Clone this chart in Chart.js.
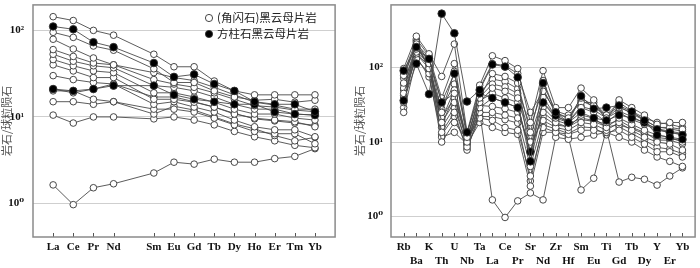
<!DOCTYPE html>
<html>
<head>
<meta charset="utf-8">
<script src="https://cdn.jsdelivr.net/npm/chart.js@4.4.1/dist/chart.umd.min.js"></script>
<style>
body { margin: 0; background: #fff; }
#wrap { position: relative; width: 700px; height: 268px; }
#ree { position: absolute; left: 0; top: 0; }
#spider { position: absolute; left: 340px; top: 0; }
</style>
</head>
<body>
<div id="wrap">
    <canvas id="ree" width="340" height="268"></canvas>
    <canvas id="spider" width="360" height="268"></canvas>
</div>
<script>
// ---- left: REE, chondrite normalised ('' = Pm, not plotted)
var reeLabels = ['La','Ce','Pr','Nd','','Sm','Eu','Gd','Tb','Dy','Ho','Er','Tm','Yb'];

var reeA1  = [144,130,100,88,null,53,38,38,26,20,18,18,18,18];
var reeA2  = [95,83,66,59,null,36,25,25,20,17,15.6,16,14.8,15.6];
var reeA3  = [79,61,48,40,null,32.5,28.5,26.3,22,18,14.8,13.7,12.3,12.3];
var reeA4  = [53,44,39,37,null,23,22,20,17,14,12.3,12.3,10.8,10.5];
var reeA5  = [46,39,34,32.5,null,19,19,17,14.8,12.3,10.8,10.8,9.7,9.2];
var reeA6  = [40,34,28.5,28.5,null,16,16,14.8,13,10.8,9.7,9.2,8.8,7.7];
var reeA7  = [21,19,21,24,null,14,15,13,11.4,9.2,7.7,7.1,7.1,5.9];
var reeA8  = [20,20,16,15,null,12.3,12.3,11.4,9.7,8.1,6.8,6.4,6.4,4.9];
var reeA9  = [15,15,14,15,null,10.8,13.3,12,10,8.3,7.3,6.1,5.3,5.8];
var reeA10 = [10.5,8.5,10,10,null,9.5,10,9.2,8.1,6.8,5.9,5.3,4.7,4.4];
var reeA11 = [1.64,0.97,1.52,1.69,null,2.25,3.0,2.85,3.25,3.0,3.0,3.3,3.5,4.3];
var reeA12 = [60,50,42,40,null,27,24,22,19,16,13.5,13,12,11.5];
var reeA13 = [30,27,25,24,null,17,17,15,13,11,9.5,9,8.5,8];
var reeB1  = [111,103,73,64,null,42,29,31,24,20,15,14,14,11.5];
var reeB2  = [21,20,21,23,null,23,18,16,15,14,14,11.4,10.8,10.5];

// ---- right: spider diagram
var spLabels = ['Rb','Ba','K','Th','U','Nb','Ta','La','Ce','Pr','Sr','Nd','Zr','Hf','Sm','Eu','Ti','Gd','Tb','Dy','Y','Er','Yb'];

var spA1  = [97,264,153,76,207,13.5,58,144,124,97,18.3,91,29,29,53,36.8,19.5,36.8,29,23,17.3,18.3,18.3];
var spA2  = [78.5,207,140,25,89,11.6,39,83,76,62,13.5,67,25,21,39,31,21,29,25,20,15.7,15.7,14.8];
var spA3  = [62,178,131,34,45,10,34,53,48,39,10,34,21,18.3,29,25,18.3,25,20,17.3,14.4,13.5,12.7];
var spA4  = [45,162,113,18.3,34,8.6,29,39,34,29,7.4,25,18.3,15.7,23,21,15.7,21,17.3,14.4,12.4,11.6,10];
var spA5  = [34,153,97,13.5,25,7.8,25,25,23,21,4.7,19.5,15.7,14.4,18.3,17.3,14.4,18.3,14.4,11.6,10,9.4,7.8];
var spA6  = [25,131,83,10,18.3,10.9,21,19.5,15.7,14.4,3.5,15.7,13.5,12.7,14.4,14.4,13.5,14.4,11.6,9.4,7.4,7.4,6.3];
var spA7  = [53,178,113,21,39,10,25,1.67,0.97,1.62,2.07,1.67,11.6,10.9,11.6,12.4,13.5,11.6,10,7.8,6.3,5.5,4.7];
var spA8  = [39,153,106,11.6,13.5,9.4,18.3,15.7,13.5,12.7,2.56,13.5,13.5,11.6,2.27,3.26,14.8,2.9,3.36,3.16,2.64,3.5,4.5];
var spA9  = [72,220,120,15.7,29,9.1,36,45,39,34,5.5,29,19.5,17.3,21,19.5,17.3,19.5,15.7,13.5,10.6,10.6,9.4];
var spA10 = [29,241,144,39,113,12.7,53,113,106,83,25,48,26,23,34,34,23,34,26,21,18.3,17.3,15.7];
var spA11 = [50,180,120,20,50,11,40,60,55,45,12,40,22,19,30,27,21,26,22,18,15,14,13];
var spA12 = [85,230,90,28,60,9.5,31,30,28,25,8.5,22,17,16,20,19,16,17,15,13,11.5,11,10.5];
var spA13 = [42,140,75,12.5,22,8.2,22,22,20,18,3,17,15,13,16,15.5,12.5,16,13,10.5,8.5,8,7];
var spA14 = [60,200,100,17,42,10.5,45,70,65,52,16,52,24,21,36,30,23,30,24,19.5,16,15,14];
var spB1  = [36,113,44,530,289,35,50,110,103,74,5.5,62,25,18.3,41.5,28,29,31,25.6,19.5,12.4,11.6,10.9];
var spB2  = [91,189,131,34,83,13.5,45,39,34,29,7.4,34,22.7,18.3,25,21,19.5,23,21,18.3,14.8,13.5,12.4];

var legendNames = ['(角闪石)黑云母片岩', '方柱石黑云母片岩'];
var yTicks = [1, 10, 100];
var yTickLabels = ['10\u2070', '10\u00b9', '10\u00b2'];

var serif = '"Liberation Serif", "DejaVu Serif", serif';
var cjk = '"Noto Sans CJK SC", sans-serif';

function makeSet(values, filled){
    return {
        label: filled ? legendNames[1] : legendNames[0],
        data: values.map(function(v, i){ return {x: i, y: v}; }),
        spanGaps: true,
        borderColor: '#4a4a4a',
        borderWidth: 0.9,
        pointRadius: filled ? 3.8 : 3.3,
        pointBorderWidth: 0.9,
        pointBorderColor: '#333',
        pointBackgroundColor: filled ? '#000' : '#fff',
        order: filled ? 0 : 1
    };
}

// box round the plot and short inward ticks on the bottom axis
var framePlugin = {
    id: 'frame',
    afterDraw: function(chart){
        var a = chart.chartArea;
        var ctx = chart.ctx;
        var xs = chart.scales.x;
        ctx.save();
        ctx.strokeStyle = '#555';
        ctx.lineWidth = 1;
        xs.ticks.forEach(function(t){
            var lab = chart.options.plugins.frame.names[t.value];
            if (!lab) return;
            var px = Math.round(xs.getPixelForValue(t.value)) + 0.5;
            ctx.beginPath();
            ctx.moveTo(px, a.bottom);
            ctx.lineTo(px, a.bottom - 4);
            ctx.stroke();
        });
        ctx.strokeStyle = '#8a8a8a';
        ctx.lineWidth = 1.5;
        ctx.strokeRect(a.left, a.top, a.right - a.left, a.bottom - a.top);
        ctx.restore();
    }
};

var legendPlugin = {
    id: 'sampleLegend',
    afterDraw: function(chart){
        var ctx = chart.ctx;
        ctx.save();
        ctx.font = '11.5px ' + cjk;
        ctx.textBaseline = 'middle';
        ctx.lineWidth = 0.9;
        ctx.strokeStyle = '#333';
        [[18, '#fff'], [34, '#000']].forEach(function(row, k){
            ctx.beginPath();
            ctx.arc(209, row[0], 3.6, 0, Math.PI * 2);
            ctx.fillStyle = row[1];
            ctx.fill();
            ctx.stroke();
            ctx.fillStyle = '#222';
            ctx.fillText(legendNames[k], 217, row[0]);
        });
        ctx.restore();
    }
};

function noPad(s){
    s.paddingTop = 0;
    s.paddingBottom = 0;
    s.paddingLeft = 0;
    s.paddingRight = 0;
}

function makeConfig(sets, names, xmax, ymin, ymax, yWidth, labelPad, titlePad, twoRows){
    return {
        type: 'line',
        data: { datasets: sets },
        options: {
            responsive: false,
            animation: false,
            layout: { padding: { top: 1, right: 2, left: 0, bottom: 0 } },
            plugins: {
                legend: { display: false },
                tooltip: { enabled: false },
                frame: { names: names }
            },
            scales: {
                x: {
                    type: 'linear',
                    min: -1,
                    max: xmax,
                    grid: { display: false, drawTicks: false },
                    border: { display: false },
                    afterFit: function(s){ s.height = 31; noPad(s); },
                    afterBuildTicks: function(s){
                        var t = [];
                        for (var i = 0; i < names.length; i++) t.push({value: i});
                        s.ticks = t;
                    },
                    ticks: {
                        autoSkip: false,
                        maxRotation: 0,
                        minRotation: 0,
                        padding: 3,
                        color: '#111',
                        font: { family: serif, size: 11, weight: 'bold', lineHeight: 1.3 },
                        callback: function(v){
                            var n = names[v] || '';
                            if (!twoRows) return n;
                            return v % 2 === 0 ? [n, ''] : ['', n];
                        }
                    }
                },
                y: {
                    type: 'logarithmic',
                    min: ymin,
                    max: ymax,
                    grid: { color: '#cfcfcf', lineWidth: 1, drawTicks: false },
                    border: { display: false },
                    afterFit: function(s){ s.width = yWidth; noPad(s); },
                    afterBuildTicks: function(s){
                        s.ticks = yTicks.map(function(v){ return {value: v}; });
                    },
                    ticks: {
                        padding: labelPad,
                        color: '#111',
                        font: { family: serif, size: 11, weight: 'bold' },
                        callback: function(v){
                            var k = yTicks.indexOf(v);
                            return k < 0 ? '' : yTickLabels[k];
                        }
                    },
                    title: {
                        display: true,
                        text: '岩石/球粒陨石',
                        color: '#555',
                        padding: { top: titlePad, bottom: 0 },
                        font: { family: cjk, size: 11 }
                    }
                }
            }
        },
        plugins: [framePlugin]
    };
}

var reeSets = [reeA1, reeA2, reeA3, reeA12, reeA4, reeA5, reeA6, reeA13, reeA7, reeA8, reeA9, reeA10, reeA11]
    .map(function(s){ return makeSet(s, false); })
    .concat([reeB1, reeB2].map(function(s){ return makeSet(s, true); }));

var spSets = [spA1, spA2, spA3, spA4, spA5, spA6, spA7, spA8, spA9, spA10, spA11, spA12, spA13, spA14]
    .map(function(s){ return makeSet(s, false); })
    .concat([spB1, spB2].map(function(s){ return makeSet(s, true); }));

var cfgLeft = makeConfig(reeSets, reeLabels, 14, 0.41, 197, 33, 9, 0, false);
cfgLeft.plugins.push(legendPlugin);
new Chart(document.getElementById('ree'), cfgLeft);

var cfgRight = makeConfig(spSets, spLabels, 23, 0.53, 695, 51, 8, 13, true);
new Chart(document.getElementById('spider'), cfgRight);
</script>
</body>
</html>
